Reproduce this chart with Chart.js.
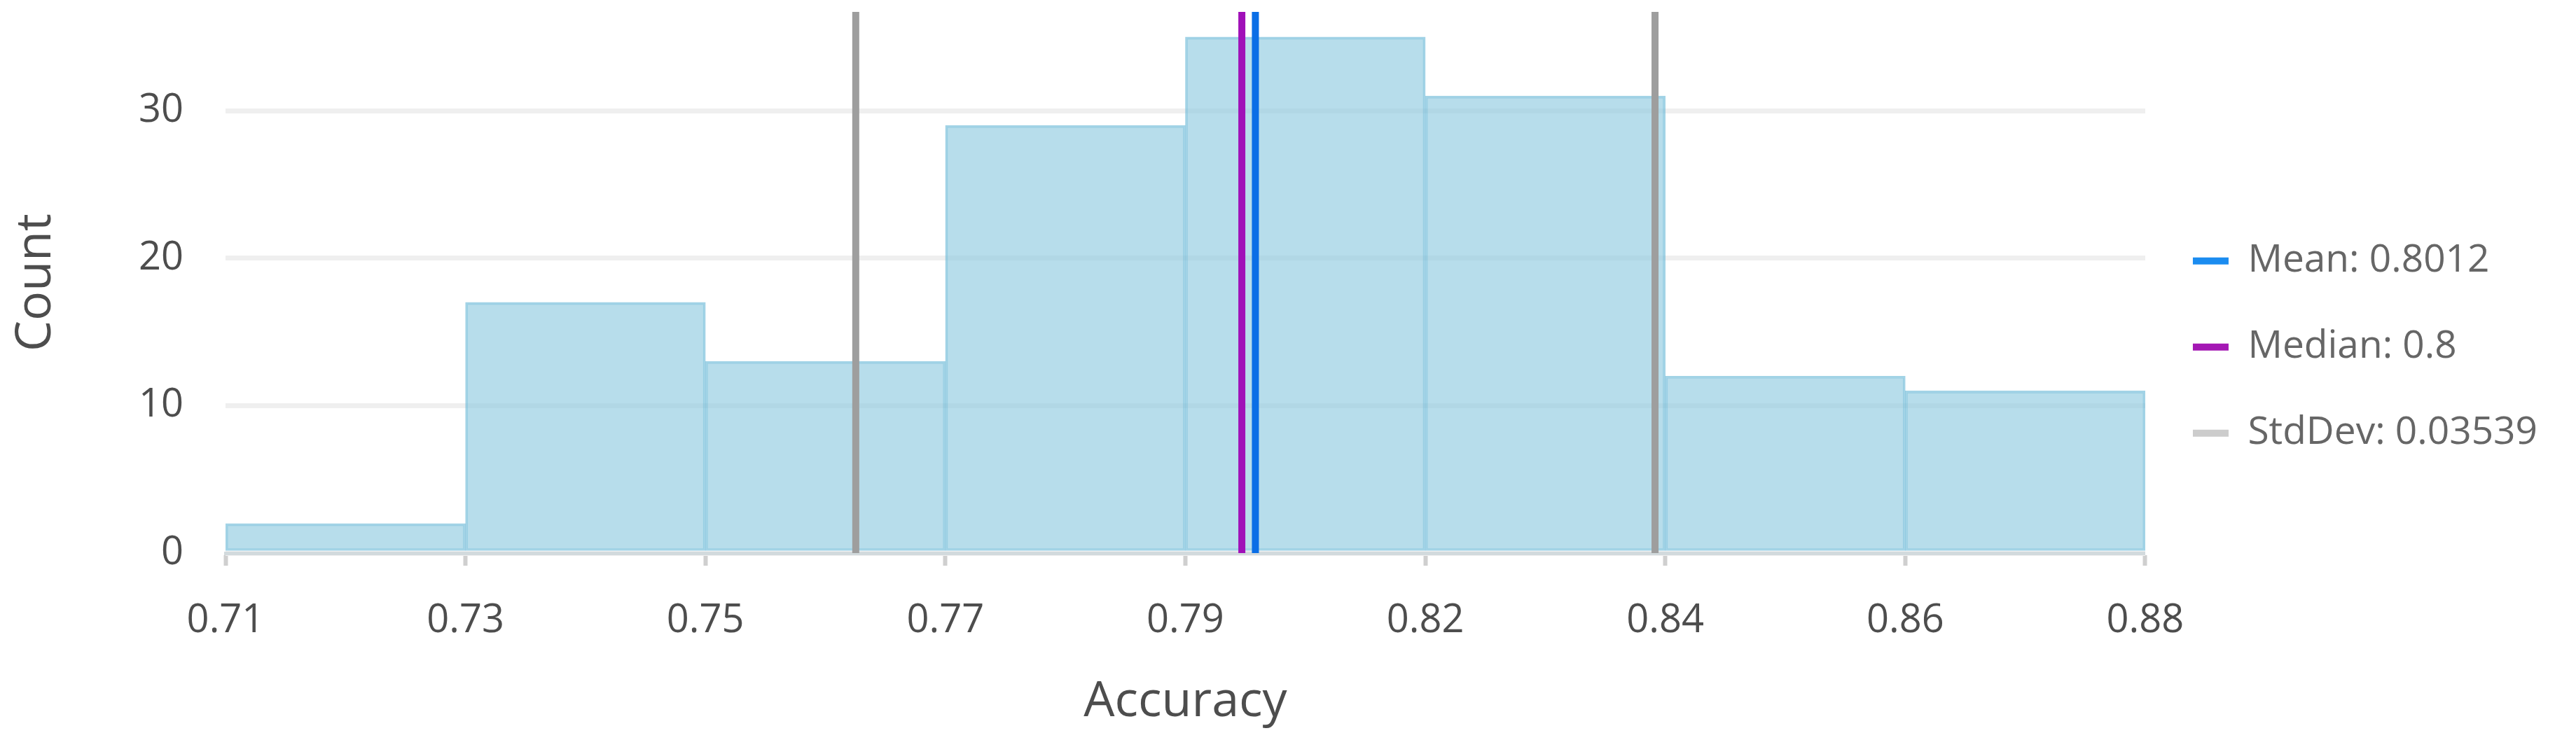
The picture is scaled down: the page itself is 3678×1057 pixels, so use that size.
<!DOCTYPE html>
<html>
<head>
<meta charset="utf-8">
<script src="https://cdn.jsdelivr.net/npm/chart.js@4.4.0/dist/chart.umd.min.js"></script>
<style>
  html, body { margin: 0; padding: 0; background: #fff; }
  #histChart { display: block; }
</style>
</head>
<body>
<canvas id="histChart" width="3678" height="1057"></canvas>
<script>
// histogram bins: evenly spaced edges, labels rounded to 2 decimals
const binEdges = [0.71, 0.73125, 0.7525, 0.77375, 0.795, 0.81625, 0.8375, 0.85875, 0.88];
const tickLabels = ["0.71", "0.73", "0.75", "0.77", "0.79", "0.82", "0.84", "0.86", "0.88"];
const counts = [2, 17, 13, 29, 35, 31, 12, 11];

// summary stats shown as vertical markers
const mean = 0.8012;
const median = 0.8;
const stdDev = 0.03539;

const yMax = 36.7;
const yStep = 10;

const fontFamily = "'Open Sans', 'Noto Sans', sans-serif";
const textColor = "#4d4d4d";

document.addEventListener("DOMContentLoaded", function () {
    const barPoints = counts.map((c, i) => ({ x: (binEdges[i] + binEdges[i + 1]) / 2, y: c }));

    const vline = v => [{ x: v, y: 0 }, { x: v, y: yMax }];

    const legendColors = ["#1b8cf0", "#a418b4", "#cccccc"];

    new Chart(document.getElementById("histChart"), {
        type: "bar",
        data: {
            datasets: [
                {
                    label: "Count",
                    data: barPoints,
                    backgroundColor: "rgba(135,198,222,0.6)",
                    borderColor: "rgba(100,182,214,0.6)",
                    borderWidth: 3,
                    borderSkipped: false,
                    barPercentage: 1,
                    categoryPercentage: 1,
                    order: 2
                },
                {
                    type: "line",
                    label: "Mean: " + mean,
                    data: vline(mean),
                    borderColor: "#0a6ee6",
                    borderWidth: 10,
                    pointRadius: 0,
                    order: 1
                },
                {
                    type: "line",
                    label: "Median: " + median,
                    data: vline(median),
                    borderColor: "#a010b8",
                    borderWidth: 10,
                    pointRadius: 0,
                    order: 1
                },
                {
                    type: "line",
                    label: "StdDev: " + stdDev,
                    data: [
                        { x: mean - stdDev, y: 0 }, { x: mean - stdDev, y: yMax },
                        { x: mean, y: null },
                        { x: mean + stdDev, y: yMax }, { x: mean + stdDev, y: 0 }
                    ],
                    borderColor: "#9e9e9e",
                    borderWidth: 10,
                    pointRadius: 0,
                    spanGaps: false,
                    order: 1
                }
            ]
        },
        options: {
            responsive: false,
            animation: false,
            devicePixelRatio: 1,
            layout: { padding: { top: 17, right: 45, bottom: 0, left: 0 } },
            plugins: {
                tooltip: { enabled: false },
                legend: {
                    position: "right",
                    align: "start",
                    fullSize: false,
                    title: { display: true, text: "", font: { size: 1 }, padding: { top: 259, bottom: 0 } },
                    labels: {
                        boxWidth: 51,
                        boxHeight: 10,
                        padding: 68,
                        color: textColor,
                        font: { family: fontFamily, size: 55 },
                        generateLabels: chart => chart.data.datasets.slice(1).map((ds, i) => ({
                            text: ds.label,
                            fillStyle: legendColors[i],
                            strokeStyle: legendColors[i],
                            lineWidth: 0,
                            hidden: false,
                            datasetIndex: i + 1
                        }))
                    }
                }
            },
            scales: {
                x: {
                    type: "linear",
                    min: binEdges[0],
                    max: binEdges[binEdges.length - 1],
                    offset: false,
                    afterBuildTicks: scale => { scale.ticks = binEdges.map(v => ({ value: v })); },
                    afterFit: scale => { scale.height = 267; },
                    ticks: {
                        autoSkip: false,
                        maxRotation: 0,
                        padding: 45,
                        color: textColor,
                        font: { family: fontFamily, size: 56 },
                        callback: (value, index) => tickLabels[index]
                    },
                    grid: {
                        drawOnChartArea: false,
                        offset: false,
                        tickLength: 18,
                        tickWidth: 6,
                        tickColor: "#cfcfcf"
                    },
                    border: { display: true, color: "#d2dadd", width: 5 },
                    title: {
                        display: true,
                        text: "Accuracy",
                        color: textColor,
                        font: { family: fontFamily, size: 70 },
                        padding: { top: 40, bottom: 12 }
                    }
                },
                y: {
                    min: 0,
                    max: yMax,
                    afterFit: scale => {
                        scale.width = 322;
                        scale.paddingTop = 0;
                        scale.paddingBottom = 0;
                    },
                    ticks: {
                        stepSize: yStep,
                        includeBounds: false,
                        padding: 60,
                        color: textColor,
                        font: { family: fontFamily, size: 56 }
                    },
                    grid: { drawTicks: false, color: "#efefef", lineWidth: 7 },
                    border: { display: false },
                    title: {
                        display: true,
                        text: "Count",
                        color: textColor,
                        font: { family: fontFamily, size: 70 },
                        padding: { top: 10, bottom: 100 }
                    }
                }
            }
        }
    });
});
</script>
</body>
</html>
